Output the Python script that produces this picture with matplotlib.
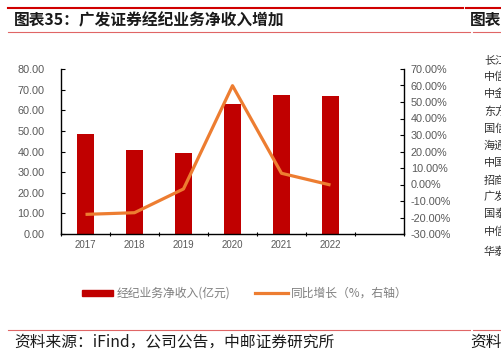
import matplotlib
matplotlib.use('Agg')
import matplotlib.pyplot as plt
from matplotlib.patches import Rectangle
from matplotlib.lines import Line2D
import numpy as np

plt.rcParams['font.family'] = ['Noto Sans CJK SC', 'DejaVu Sans']

# данные
years = ['2017', '2018', '2019', '2020', '2021', '2022', '']
income = [48.5, 40.6, 39.3, 63.0, 67.3, 67.1]
growth = [-18.1, -17.1, -2.7, 59.9, 6.8, -0.3]
side_names = ['长江', '中信', '中金', '东方', '国信', '海通', '中国', '招商',
              '广发', '国泰', '中信', '华泰']
legend_labels = ['经纪业务净收入(亿元)', '同比增长（%，右轴）']

red = '#C00000'
orange = '#ED7D31'
gray = '#595959'
line_red = '#E06666'

W, H = 501, 355
fig = plt.figure(figsize=(W / 100, H / 100), dpi=100)


def fx(px):
    return px / W


def fy(py):
    return 1 - py / H


# шапка и подвал
fig.add_artist(Line2D([fx(8), fx(463)], [fy(8)] * 2, color='#D00000', lw=1.5))
fig.add_artist(Line2D([fx(466), 1.0], [fy(8)] * 2, color='#D00000', lw=1.5))
for yy in (32, 330):
    fig.add_artist(Line2D([fx(8), fx(470)], [fy(yy)] * 2, color=line_red, lw=0.8))
    fig.add_artist(Line2D([fx(473), 1.0], [fy(yy)] * 2, color=line_red, lw=0.8))

fig.text(fx(14), fy(20), '图表35：广发证券经纪业务净收入增加', fontsize=11.3,
         fontweight='bold', va='center', ha='left', color='#1a1a1a')
fig.text(fx(470), fy(20), '图表', fontsize=11.3, fontweight='bold',
         va='center', ha='left', color='#1a1a1a')
fig.text(fx(14), fy(342), '资料来源：iFind，公司公告，中邮证券研究所', fontsize=11.3,
         va='center', ha='left', color='#1a1a1a')
fig.text(fx(470), fy(342), '资料', fontsize=11.3, va='center', ha='left',
         color='#1a1a1a')

ys = [60, 77, 94, 111, 129, 146, 163, 181, 197, 214, 232, 252]
for name, y in zip(side_names, ys):
    fig.text(fx(484), fy(y), name, fontsize=8, va='center', ha='left',
             color='#333333')

# оси
ax = fig.add_axes([fx(61), fy(234), fx(343), 165 / H])
ax2 = ax.twinx()

x = np.arange(len(years))
ax.bar(x[:len(income)], income, width=0.34, color=red, zorder=2)
ax2.plot(x[:len(growth)], growth, color=orange, lw=2.3, solid_capstyle='butt', zorder=3)

ax.set_xlim(-0.5, len(years) - 0.5)
ax.set_ylim(0, 80)
ax.set_yticks(np.arange(0, 81, 10))
ax.set_yticklabels(['%.2f' % v for v in np.arange(0, 81, 10)])
ax2.set_ylim(-30, 70)
ax2.set_yticks(np.arange(-30, 71, 10))
ax2.set_yticklabels(['%.2f%%' % v for v in np.arange(-30, 71, 10)])

ax.set_xticks(x)
ax.set_xticklabels(years)
ax.set_xticks(np.arange(-0.5, len(years), 1), minor=True)
ax.tick_params(axis='x', which='major', length=0, pad=4, labelsize=7, labelcolor=gray)
ax.tick_params(axis='x', which='minor', length=3, direction='inout', width=0.8)
ax.tick_params(axis='y', direction='in', length=3, labelsize=7.8, labelcolor=gray, pad=12)
ax2.tick_params(axis='y', direction='in', length=3, labelsize=7.8, labelcolor=gray, pad=5)

for a in (ax, ax2):
    a.spines['top'].set_visible(False)
    for s in ('left', 'right', 'bottom'):
        a.spines[s].set_linewidth(1.0)
        a.spines[s].set_color('black')
ax.spines['right'].set_visible(False)
ax2.spines['left'].set_visible(False)
ax2.spines['bottom'].set_visible(False)

for lbl in ax.get_yticklabels() + ax2.get_yticklabels() + ax.get_xticklabels():
    lbl.set_fontfamily(['Liberation Sans', 'DejaVu Sans'])

# легенда вручную
fig.add_artist(Rectangle((fx(82), fy(296)), fx(31), 6 / H, color=red))
fig.text(fx(117), fy(293), legend_labels[0], fontsize=8.5, va='center', ha='left',
         color='#7f7f7f')
fig.add_artist(Line2D([fx(255), fx(288)], [fy(293)] * 2, color=orange, lw=2.3))
fig.text(fx(291), fy(293), legend_labels[1], fontsize=8.5, va='center', ha='left',
         color='#7f7f7f')

fig.savefig('out.png', dpi=100)
